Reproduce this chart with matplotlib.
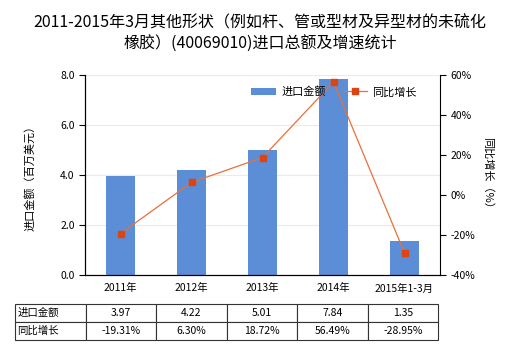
import numpy as np
import matplotlib.pyplot as plt

plt.rcParams["font.family"] = ["Noto Sans CJK SC", "DejaVu Sans"]
plt.rcParams["font.size"] = 7.5

categories = ["2011年", "2012年", "2013年", "2014年", "2015年1-3月"]
import_vals = [3.97, 4.22, 5.01, 7.84, 1.35]
growth_vals = [-19.31, 6.30, 18.72, 56.49, -28.95]
import_labels = ["3.97", "4.22", "5.01", "7.84", "1.35"]
growth_labels = ["-19.31%", "6.30%", "18.72%", "56.49%", "-28.95%"]
row_names = ["进口金额", "同比增长"]

bar_color = "#5B8ED6"
line_color = "#E8703A"
marker_color = "#DD4411"

fig = plt.figure(figsize=(5.2, 3.5), dpi=100)
ax = fig.add_axes([85 / 520, 75 / 350, 355 / 520, 200 / 350])
x = np.arange(len(categories))

ax.bar(x, import_vals, width=0.4, color=bar_color, label="进口金额", zorder=2)
ax.set_xlim(-0.5, len(categories) - 0.5)
ax.set_ylim(0, 8)
ax.set_yticks(np.arange(0, 8.1, 2))
ax.set_yticklabels([f"{v:.1f}" for v in np.arange(0, 8.1, 2)])
ax.set_xticks(x)
ax.set_xticklabels(categories)
ax.tick_params(axis="x", length=0, pad=6)
ax.tick_params(axis="y", length=4, direction="out")
ax.grid(axis="y", color="#EEEBD8", linewidth=0.8, zorder=0)
ax.set_axisbelow(True)
for s in ["top", "right"]:
    ax.spines[s].set_visible(False)
ax.set_ylabel("进口金额（百万美元）", fontsize=8, labelpad=18)

ax2 = ax.twinx()
ax2.plot(x, growth_vals, color=line_color, linewidth=0.9, marker="s",
         markersize=4.5, markerfacecolor=marker_color, markeredgecolor=marker_color,
         label="同比增长", zorder=3)
ax2.set_ylim(-40, 60)
ax2.set_yticks(np.arange(-40, 61, 20))
ax2.set_yticklabels([f"{int(v)}%" for v in np.arange(-40, 61, 20)])
ax2.tick_params(axis="y", length=4, direction="out")
ax2.spines["top"].set_visible(False)
ax2.set_ylabel("同比增长（%）", fontsize=8, rotation=270, labelpad=13)

h1, l1 = ax.get_legend_handles_labels()
h2, l2 = ax2.get_legend_handles_labels()
ax2.legend(h1 + h2, l1 + l2, loc="center left", bbox_to_anchor=(0.44, 0.915),
           ncol=2, frameon=False, fontsize=8, handlelength=2.2, columnspacing=1.5,
           handletextpad=0.5)

cell_text = [[row_names[0]] + import_labels, [row_names[1]] + growth_labels]
tbl = ax.table(cellText=cell_text, cellLoc="center",
               bbox=[-70 / 355, -65 / 200, 423 / 355, 36 / 200])
tbl.auto_set_font_size(False)
tbl.set_fontsize(7.5)
for (r, c), cell in tbl.get_celld().items():
    cell.set_edgecolor("#333333")
    cell.set_linewidth(0.8)
    if c == 0:
        cell.get_text().set_ha("left")
        cell.PAD = 0.03

fig.suptitle("2011-2015年3月其他形状（例如杆、管或型材及异型材的未硫化\n橡胶）(40069010)进口总额及增速统计",
             fontsize=11.5, y=0.96, linespacing=1.35)

fig.savefig("out.png", dpi=100)
